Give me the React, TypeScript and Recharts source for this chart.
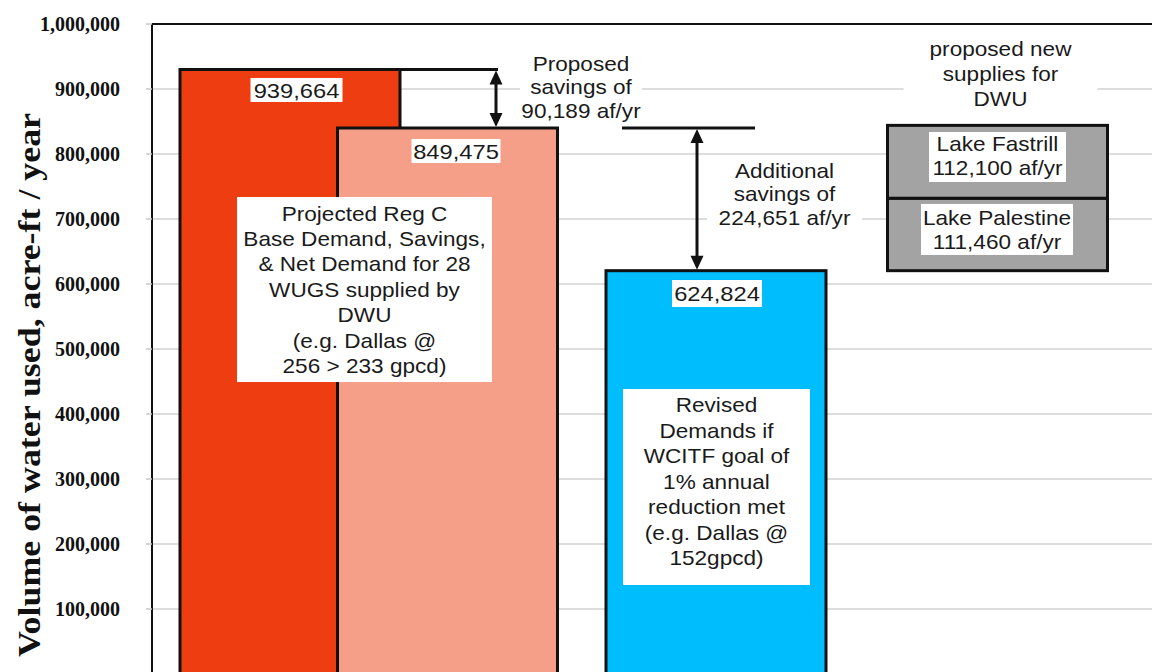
import { ComposedChart, Bar, Cell, XAxis, YAxis, CartesianGrid, ReferenceLine, ReferenceDot } from "recharts"

// bar groups, left to right
const categories = ["Projected Base Demand", "Net Demand", "Revised Demand", "Proposed New Supplies"]
// heights as drawn (af/yr)
const demandValues = [930000, 840000, 620500, null]
const supplyBase = [null, null, null, 620500]
const palestineSupply = [null, null, null, 111460]
const fastrillSupply = [null, null, null, 112100]

// the 0 line sits just below the bottom edge, so its label is not shown
const yTicks = [100000, 200000, 300000, 400000, 500000, 600000, 700000, 800000, 900000, 1000000]

// layout only: centre of each bar on the hidden x axis (0..1000)
const slotCenters = [138, 295.5, 564, 845.5]
const BAR_WIDTH = 220
const barColors = ["#ef3d12", "#f59f89", "#00bdfd", "#a3a3a3"]

const rows = categories.map((name, i) => ({
  name,
  x: slotCenters[i],
  demand: demandValues[i],
  supplyBase: supplyBase[i],
  palestine: palestineSupply[i],
  fastrill: fastrillSupply[i],
}))

const SANS = "'Liberation Sans', Arial, Helvetica, sans-serif"
const SERIF = "'Liberation Serif', 'Times New Roman', serif"

type Note = { x: number; y: number; lines: string[]; box: [number, number]; size?: number; gap?: number; textDy?: number }

const notes: Note[] = [
  { x: 144.5, y: 898500, lines: ["939,664"], box: [92, 24], size: 21 },
  { x: 304, y: 804600, lines: ["849,475"], box: [89, 24], size: 21 },
  { x: 565, y: 585400, lines: ["624,824"], box: [90, 27], size: 21 },
  {
    x: 212.5,
    y: 591500,
    lines: ["Projected Reg C", "Base Demand, Savings,", "& Net Demand for 28", "WUGS supplied by", "DWU", "(e.g. Dallas @", "256 > 233 gpcd)"],
    box: [255, 185],
    gap: 25.4,
  },
  {
    x: 564.5,
    y: 287700,
    lines: ["Revised", "Demands if", "WCITF goal of", "1% annual", "reduction met", "(e.g. Dallas @", "152gpcd)"],
    box: [187, 196],
    gap: 25.5,
    textDy: -5.5,
  },
  { x: 429, y: 903100, lines: ["Proposed", "savings of", "90,189 af/yr"], box: [122, 70], gap: 23.5 },
  { x: 632.5, y: 738500, lines: ["Additional", "savings of", "224,651 af/yr"], box: [155, 72], gap: 23.5 },
  { x: 848.5, y: 923100, lines: ["proposed new", "supplies for", "DWU"], box: [194, 76], gap: 25 },
  { x: 845.5, y: 795400, lines: ["Lake Fastrill", "112,100 af/yr"], box: [137, 50], gap: 24, textDy: -1 },
  { x: 845, y: 683900, lines: ["Lake Palestine", "111,460 af/yr"], box: [152, 51], gap: 24 },
]

const BarShape = (props: any) => {
  const { x, y, width, height, fill, stroke, strokeWidth } = props
  if (!height || Math.abs(height) < 0.5) return null
  const cx = x + width / 2
  return <rect x={cx - BAR_WIDTH / 2} y={y} width={BAR_WIDTH} height={height} fill={fill} stroke={stroke} strokeWidth={strokeWidth} />
}

const DoubleArrow = (props: any) => {
  const { x1, y1, y2 } = props
  const top = Math.min(y1, y2)
  const bot = Math.max(y1, y2)
  const hl = 15
  const hw = 6.5
  return (
    <g>
      <line x1={x1} y1={top + hl - 1} x2={x1} y2={bot - hl + 1} stroke="#111" strokeWidth={3} />
      <polygon points={`${x1},${top + 1} ${x1 - hw},${top + hl} ${x1 + hw},${top + hl}`} fill="#111" />
      <polygon points={`${x1},${bot - 1} ${x1 - hw},${bot - hl} ${x1 + hw},${bot - hl}`} fill="#111" />
    </g>
  )
}

const noteShape = (n: Note) => (p: any) => {
  const { cx, cy } = p
  const size = n.size ?? 20
  const gap = n.gap ?? 24
  const first = -((n.lines.length - 1) * gap) / 2 + (n.textDy ?? 0)
  return (
    <g transform={`translate(${cx},${cy})`}>
      <rect x={-n.box[0] / 2} y={-n.box[1] / 2} width={n.box[0]} height={n.box[1]} fill="#ffffff" />
      <text transform="scale(1.13,1)" textAnchor="middle" fontFamily={SANS} fontSize={size} fill="#1a1a1a">
        {n.lines.map((l, i) => (
          <tspan key={i} x={0} y={first + i * gap} dy="0.36em">
            {l}
          </tspan>
        ))}
      </text>
    </g>
  )
}

const YTitle = () => (
  <text
    transform="translate(40,385) rotate(-90)"
    textAnchor="middle"
    fontFamily={SERIF}
    fontWeight="bold"
    fontSize={32}
    fill="#111"
    textLength={544}
    lengthAdjust="spacingAndGlyphs"
  >
    Volume of water used, acre-ft / year
  </text>
)

export default function App() {
  const red = demandValues[0] as number
  const net = demandValues[1] as number
  const revised = demandValues[2] as number
  return (
    <div style={{ width: 1152, height: 672, overflow: "hidden", position: "relative" }}>
      <style>{"body{margin:0}"}</style>
      <ComposedChart width={1152} height={674} data={rows} margin={{ top: 24, right: 0, bottom: 0, left: 0 }}>
        <CartesianGrid vertical={false} stroke="#d2d2d2" strokeWidth={1.5} />
        <XAxis type="number" dataKey="x" domain={[0, 1000]} hide />
        <YAxis
          type="number"
          domain={[0, 1000000]}
          ticks={yTicks}
          interval={0}
          width={152}
          tickSize={6}
          tickMargin={26}
          tickLine={{ stroke: "#c8c8c8", strokeWidth: 1.5 }}
          axisLine={{ stroke: "#111", strokeWidth: 2 }}
          tickFormatter={(v: number) => v.toLocaleString("en-US")}
          tick={{ fill: "#111", fontSize: 20, fontWeight: "bold", fontFamily: SERIF }}
          label={{ content: YTitle }}
        />
        <Bar dataKey="demand" stackId="s" shape={BarShape} stroke="#111" strokeWidth={3} isAnimationActive={false}>
          {rows.map((r, i) => (
            <Cell key={r.name} fill={barColors[i]} />
          ))}
        </Bar>
        <Bar dataKey="supplyBase" stackId="s" fill="none" shape={BarShape} isAnimationActive={false} />
        <Bar dataKey="palestine" stackId="s" fill={barColors[3]} stroke="#111" strokeWidth={3} shape={BarShape} isAnimationActive={false} />
        <Bar dataKey="fastrill" stackId="s" fill={barColors[3]} stroke="#111" strokeWidth={3} shape={BarShape} isAnimationActive={false} />

        <ReferenceLine y={1000000} stroke="#111" strokeWidth={2} />
        <ReferenceLine segment={[{ x: 248, y: red }, { x: 346, y: red }]} stroke="#111" strokeWidth={3} />
        <ReferenceLine segment={[{ x: 344, y: red }, { x: 344, y: net }]} shape={DoubleArrow} />
        <ReferenceLine segment={[{ x: 470, y: net }, { x: 603, y: net }]} stroke="#111" strokeWidth={3} />
        <ReferenceLine segment={[{ x: 545, y: net }, { x: 545, y: revised }]} shape={DoubleArrow} />

        {notes.map((n, i) => (
          <ReferenceDot key={i} x={n.x} y={n.y} r={0} shape={noteShape(n)} />
        ))}
      </ComposedChart>
    </div>
  )
}
